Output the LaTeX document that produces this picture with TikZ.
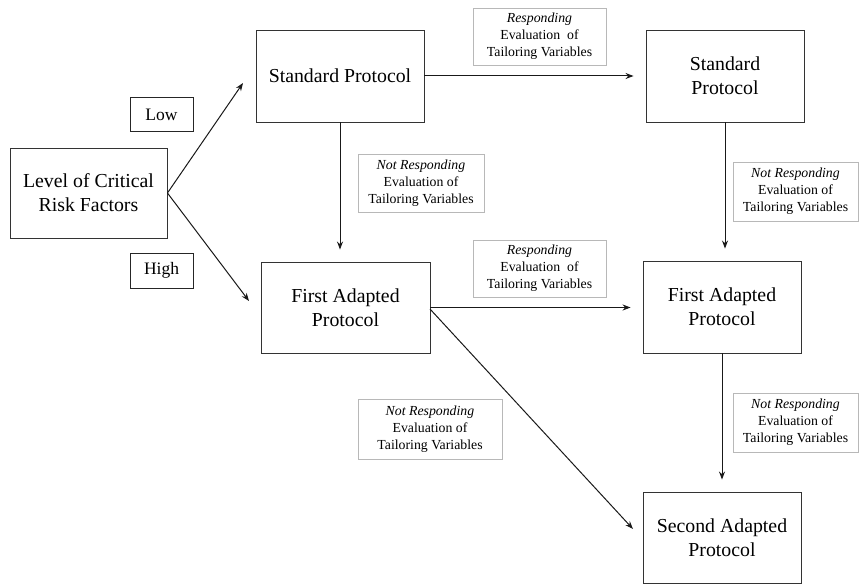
\documentclass[tikz,border=0pt]{standalone}
\usepackage{fontspec}
\setmainfont{Liberation Serif}
\usetikzlibrary{arrows.meta}
\begin{document}
\begin{tikzpicture}[x=1pt,y=-1pt,
  mainbox/.style={draw=black!80, line width=0.9pt, align=center, inner sep=2pt,
    font=\fontsize{19.8}{24}\selectfont},
  lvlbox/.style={draw=black!85, line width=0.9pt, align=center, inner sep=2pt,
    font=\fontsize{17.5}{20}\selectfont},
  evalbox/.style={draw=black!28, line width=0.9pt, align=center, inner sep=2pt,
    font=\fontsize{13.8}{17}\selectfont},
  conn/.style={line width=1pt, draw=black!90, -{Stealth[length=8pt,width=6pt]}}]
\useasboundingbox (0,0) rectangle (862,586);

% main boxes
\node[mainbox, minimum width=157pt, minimum height=90pt] (lvl) at (88.5,193) {Level of Critical\\Risk Factors};
\node[mainbox, minimum width=168pt, minimum height=92pt] (sp) at (340,76) {Standard Protocol};
\node[mainbox, minimum width=158pt, minimum height=92pt] (sp2) at (725,76) {Standard\\Protocol};
\node[mainbox, minimum width=169pt, minimum height=91pt] (fa) at (345.5,307.5) {First Adapted\\Protocol};
\node[mainbox, minimum width=158pt, minimum height=92pt] (fa2) at (722,307) {First Adapted\\Protocol};
\node[mainbox, minimum width=158pt, minimum height=91pt] (sa) at (722,537.5) {Second Adapted\\Protocol};

% level labels
\node[lvlbox, minimum width=63pt, minimum height=34pt] (low) at (161.5,114.5) {Low};
\node[lvlbox, minimum width=63pt, minimum height=35pt] (high) at (161.5,270.5) {High};

% evaluation labels
\node[evalbox, minimum width=133pt, minimum height=57pt] (r1) at (539.5,36.5) {\textit{Responding}\\Evaluation\ \ of\\Tailoring Variables};
\node[evalbox, minimum width=133pt, minimum height=57pt] (r2) at (539.5,268.5) {\textit{Responding}\\Evaluation\ \ of\\Tailoring Variables};
\node[evalbox, minimum width=126pt, minimum height=58pt] (n1) at (421,183) {\textit{Not Responding}\\Evaluation of\\Tailoring Variables};
\node[evalbox, minimum width=125pt, minimum height=59pt] (n2) at (795.5,191.5) {\textit{Not Responding}\\Evaluation of\\Tailoring Variables};
\node[evalbox, minimum width=144pt, minimum height=60pt] (n3) at (430,429) {\textit{Not Responding}\\Evaluation of\\Tailoring Variables};
\node[evalbox, minimum width=125pt, minimum height=59pt] (n4) at (795.5,422.5) {\textit{Not Responding}\\Evaluation of\\Tailoring Variables};

% free ends
\coordinate (lowend) at (243,83);
\coordinate (highend) at (249,301);
\coordinate (diagstart) at (430,309);
\coordinate (diagend) at (633,529);

% connectors
\draw[conn] (lvl.east) -- (lowend);
\draw[conn] (lvl.east) -- (highend);
\draw[conn, shorten >=12pt] (sp.east) -- (sp2.west);
\draw[conn, shorten >=12pt] (sp.south) -- (sp.south |- fa.north);
\draw[conn, shorten >=12pt] (sp2.south) -- (sp2.south |- fa2.north);
\draw[conn, shorten >=12pt] (fa.east) -- (fa.east -| fa2.west);
\draw[conn] (diagstart) -- (diagend);
\draw[conn, shorten >=12pt] (fa2.south) -- (sa.north);
\end{tikzpicture}
\end{document}
